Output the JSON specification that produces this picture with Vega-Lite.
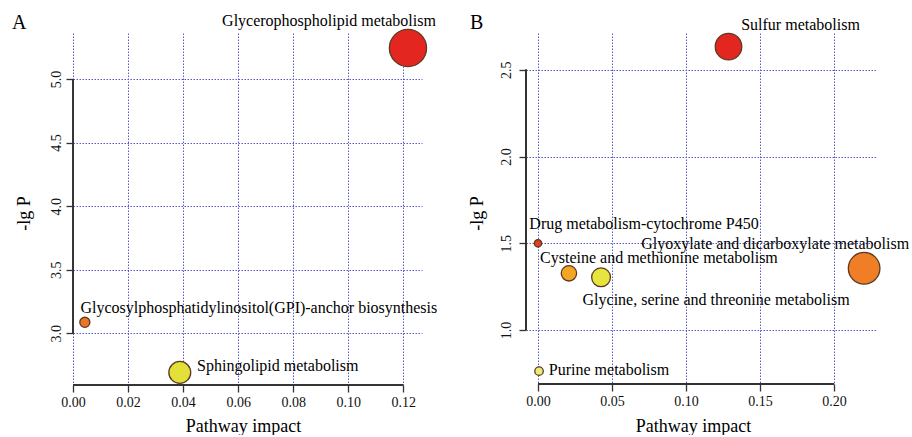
{
  "$schema": "https://vega.github.io/schema/vega-lite/v6.json",
  "autosize": {"type": "pad"},
  "padding": {"left": 12, "top": 13, "right": 0, "bottom": 0},
  "background": "white",
  "datasets": {
    "A": [
      {"pathway": "Glycerophospholipid metabolism", "impact": 0.1217, "lgP": 5.244},
      {"pathway": "Glycosylphosphatidylinositol(GPI)-anchor biosynthesis", "impact": 0.0043, "lgP": 3.087},
      {"pathway": "Sphingolipid metabolism", "impact": 0.0388, "lgP": 2.693}
    ],
    "B": [
      {"pathway": "Sulfur metabolism", "impact": 0.1287, "lgP": 2.633},
      {"pathway": "Drug metabolism-cytochrome P450", "impact": 0.0, "lgP": 1.5},
      {"pathway": "Glyoxylate and dicarboxylate metabolism", "impact": 0.2203, "lgP": 1.356},
      {"pathway": "Cysteine and methionine metabolism", "impact": 0.0209, "lgP": 1.327},
      {"pathway": "Glycine, serine and threonine metabolism", "impact": 0.0426, "lgP": 1.304},
      {"pathway": "Purine metabolism", "impact": 0.0007, "lgP": 0.763}
    ]
  },
  "config": {
    "view": {"stroke": null},
    "axis": {
      "domain": false, "ticks": true, "tickSize": 7, "tickColor": "#333333", "tickWidth": 1.3,
      "grid": true, "gridColor": "#5a5ad0", "gridDash": [1.5, 1.5], "gridWidth": 1,
      "labelFont": "Liberation Serif", "labelFontSize": 14, "labelColor": "#111",
      "labelFlush": false, "labelOverlap": false,
      "titleFont": "Liberation Serif", "titleFontSize": 18, "titleFontWeight": "normal", "titleColor": "#000"
    },
    "axisX": {"labelPadding": 3, "titleBaseline": "alphabetic", "titleAlign": "center", "titleAngle": 0},
    "axisY": {"labelAngle": 270, "labelAlign": "center", "labelBaseline": "alphabetic", "titleAngle": 270, "titleAlign": "center", "titleBaseline": "alphabetic"},
    "title": {"font": "Liberation Serif", "fontSize": 20, "fontWeight": "normal", "color": "#000", "anchor": "start", "frame": "group", "baseline": "alphabetic"},
    "text": {"font": "Liberation Serif", "fontSize": 16, "color": "#000"}
  },
  "spacing": 104,
  "bounds": "flush",
  "resolve": {"scale": {"color": "independent", "size": "independent"}},
  "hconcat": [
    {
      "width": 349, "height": 352,
      "title": {"text": "A", "dx": -61, "offset": -20},
      "data": {"name": "A"},
      "layer": [
        {"mark": {"type": "circle", "opacity": 1, "stroke": "#5b3b23", "strokeWidth": 1.3},
          "encoding": {
            "x": {"field": "impact", "type": "quantitative",
              "scale": {"domain": [0, 0.1268], "nice": false, "zero": false},
              "axis": {"values": [0, 0.02, 0.04, 0.06, 0.08, 0.1, 0.12], "format": ".2f", "title": "Pathway impact", "titleX": 170, "titleY": 46}},
            "y": {"field": "lgP", "type": "quantitative",
              "scale": {"domain": [2.594, 5.362], "nice": false, "zero": false},
              "axis": {"values": [3, 3.5, 4, 4.5, 5], "format": ".1f", "labelPadding": 6, "title": "-lg P", "titleX": -44, "titleY": 180}},
            "color": {"field": "pathway", "type": "nominal", "legend": null,
              "scale": {"domain": ["Glycerophospholipid metabolism", "Glycosylphosphatidylinositol(GPI)-anchor biosynthesis", "Sphingolipid metabolism"],
                "range": ["#e3261f", "#ec7524", "#e4e03a"]}},
            "size": {"field": "impact", "type": "quantitative", "legend": null,
              "scale": {"type": "linear", "domain": [0, 0.1217], "range": [55, 1385]}}
          }},
        {"transform": [{"filter": "datum.pathway === 'Glycerophospholipid metabolism'"}],
          "mark": {"type": "text", "align": "center", "baseline": "middle", "dx": -79, "dy": -27},
          "encoding": {"x": {"field": "impact", "type": "quantitative"}, "y": {"field": "lgP", "type": "quantitative"}, "text": {"field": "pathway"}}},
        {"transform": [{"filter": "datum.pathway === 'Glycosylphosphatidylinositol(GPI)-anchor biosynthesis'"}],
          "mark": {"type": "text", "align": "center", "baseline": "middle", "dx": 174, "dy": -14.5},
          "encoding": {"x": {"field": "impact", "type": "quantitative"}, "y": {"field": "lgP", "type": "quantitative"}, "text": {"field": "pathway"}}},
        {"transform": [{"filter": "datum.pathway === 'Sphingolipid metabolism'"}],
          "mark": {"type": "text", "align": "center", "baseline": "middle", "dx": 98, "dy": -6},
          "encoding": {"x": {"field": "impact", "type": "quantitative"}, "y": {"field": "lgP", "type": "quantitative"}, "text": {"field": "pathway"}}},
        {"mark": {"type": "rule", "stroke": "#333333", "strokeWidth": 1.4},
          "encoding": {"x": {"datum": 0}, "x2": {"datum": 0.12}, "y": {"datum": 2.594}}},
        {"mark": {"type": "rule", "stroke": "#333333", "strokeWidth": 1.4},
          "encoding": {"x": {"datum": 0}, "y": {"datum": 3}, "y2": {"datum": 5}}}
      ]
    },
    {
      "width": 351, "height": 351,
      "title": {"text": "B", "dx": -56, "offset": -16},
      "data": {"name": "B"},
      "layer": [
        {"mark": {"type": "circle", "opacity": 1, "stroke": "#5b3b23", "strokeWidth": 1.3},
          "encoding": {
            "x": {"field": "impact", "type": "quantitative",
              "scale": {"domain": [-0.0081, 0.229], "nice": false, "zero": false},
              "axis": {"values": [0, 0.05, 0.1, 0.15, 0.2], "format": ".2f", "title": "Pathway impact", "titleX": 167, "titleY": 47}},
            "y": {"field": "lgP", "type": "quantitative",
              "scale": {"domain": [0.689, 2.712], "nice": false, "zero": false},
              "axis": {"values": [1, 1.5, 2, 2.5], "format": ".1f", "labelPadding": 9, "title": "-lg P", "titleX": -44, "titleY": 180}},
            "color": {"field": "pathway", "type": "nominal", "legend": null,
              "scale": {"domain": ["Sulfur metabolism", "Drug metabolism-cytochrome P450", "Glyoxylate and dicarboxylate metabolism", "Cysteine and methionine metabolism", "Glycine, serine and threonine metabolism", "Purine metabolism"],
                "range": ["#e3261f", "#e6401f", "#f07e26", "#f3a526", "#e7e43e", "#eeeb74"]}},
            "size": {"field": "impact", "type": "quantitative", "legend": null,
              "scale": {"type": "pow", "exponent": 0.7, "domain": [0, 0.2203], "range": [55, 1000]}}
          }},
        {"transform": [{"filter": "datum.pathway === 'Sulfur metabolism'"}],
          "mark": {"type": "text", "align": "center", "baseline": "middle", "dx": 72, "dy": -21.7},
          "encoding": {"x": {"field": "impact", "type": "quantitative"}, "y": {"field": "lgP", "type": "quantitative"}, "text": {"field": "pathway"}}},
        {"transform": [{"filter": "datum.pathway === 'Drug metabolism-cytochrome P450'"}],
          "mark": {"type": "text", "align": "center", "baseline": "middle", "dx": 106, "dy": -19.5},
          "encoding": {"x": {"field": "impact", "type": "quantitative"}, "y": {"field": "lgP", "type": "quantitative"}, "text": {"field": "pathway"}}},
        {"transform": [{"filter": "datum.pathway === 'Glyoxylate and dicarboxylate metabolism'"}],
          "mark": {"type": "text", "align": "center", "baseline": "middle", "dx": -89, "dy": -24},
          "encoding": {"x": {"field": "impact", "type": "quantitative"}, "y": {"field": "lgP", "type": "quantitative"}, "text": {"field": "pathway"}}},
        {"transform": [{"filter": "datum.pathway === 'Cysteine and methionine metabolism'"}],
          "mark": {"type": "text", "align": "center", "baseline": "middle", "dx": 90, "dy": -15},
          "encoding": {"x": {"field": "impact", "type": "quantitative"}, "y": {"field": "lgP", "type": "quantitative"}, "text": {"field": "pathway"}}},
        {"transform": [{"filter": "datum.pathway === 'Glycine, serine and threonine metabolism'"}],
          "mark": {"type": "text", "align": "center", "baseline": "middle", "dx": 115, "dy": 23},
          "encoding": {"x": {"field": "impact", "type": "quantitative"}, "y": {"field": "lgP", "type": "quantitative"}, "text": {"field": "pathway"}}},
        {"transform": [{"filter": "datum.pathway === 'Purine metabolism'"}],
          "mark": {"type": "text", "align": "center", "baseline": "middle", "dx": 70, "dy": -1},
          "encoding": {"x": {"field": "impact", "type": "quantitative"}, "y": {"field": "lgP", "type": "quantitative"}, "text": {"field": "pathway"}}},
        {"mark": {"type": "rule", "stroke": "#333333", "strokeWidth": 1.4},
          "encoding": {"x": {"datum": 0}, "x2": {"datum": 0.2}, "y": {"datum": 0.689}}},
        {"mark": {"type": "rule", "stroke": "#333333", "strokeWidth": 1.4},
          "encoding": {"x": {"datum": -0.0081}, "y": {"datum": 1}, "y2": {"datum": 2.5}}}
      ]
    }
  ]
}
